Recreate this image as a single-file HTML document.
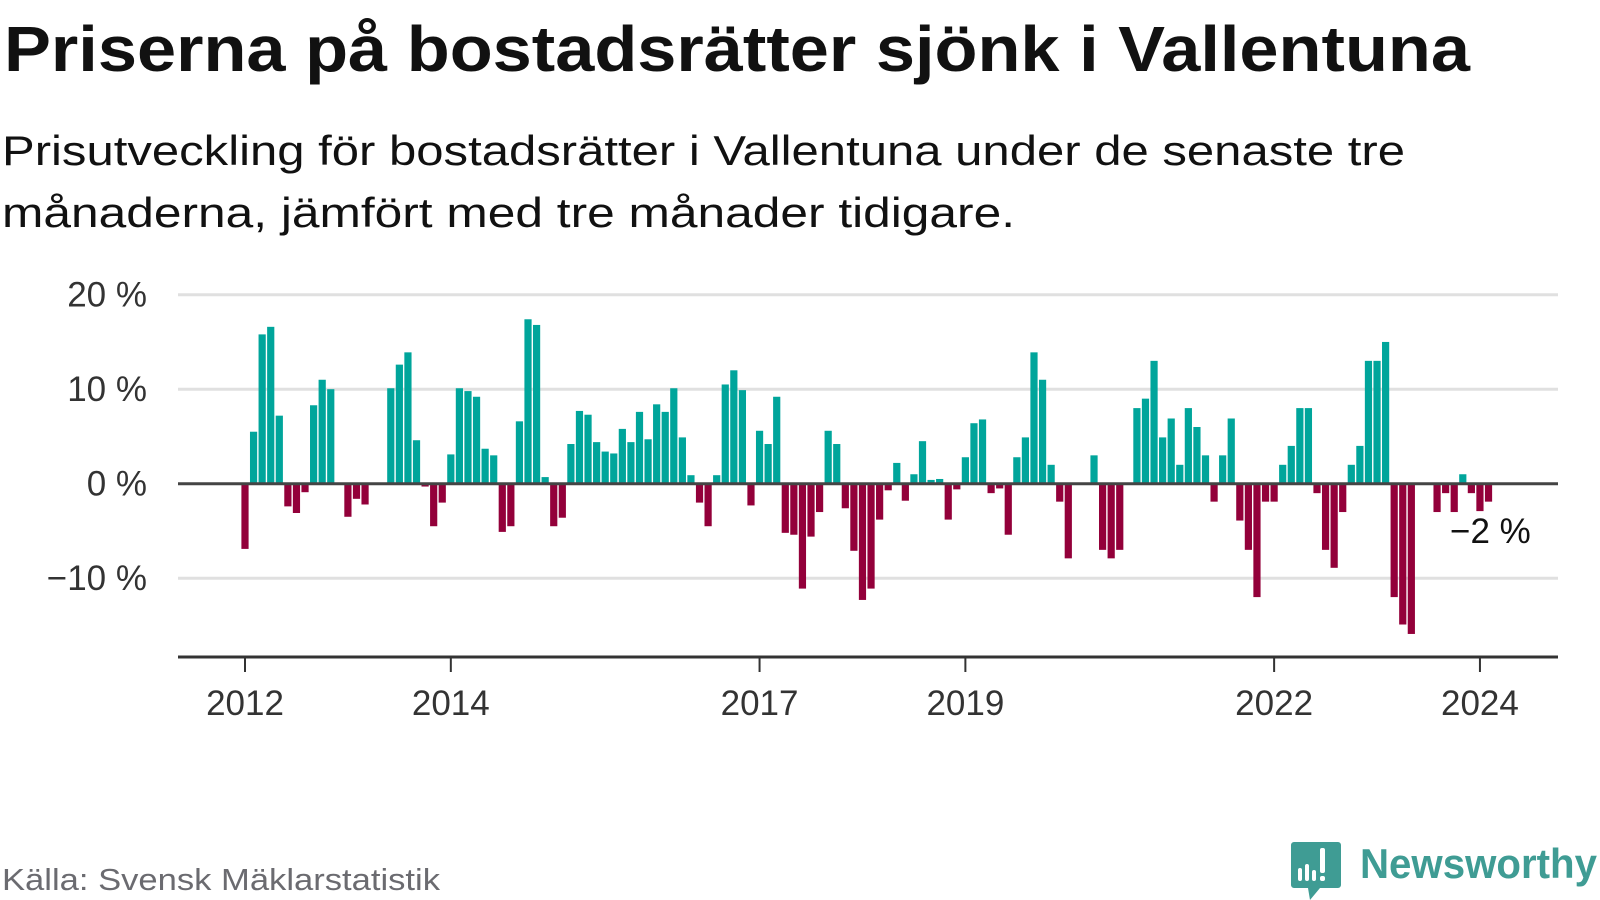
<!DOCTYPE html>
<html><head><meta charset="utf-8"><style>
html,body{margin:0;padding:0;background:#fff;}
svg{display:block;font-family:"Liberation Sans",sans-serif;}
</style></head><body>
<svg id="chart" width="1600" height="900" viewBox="0 0 1600 900">
<text x="4" y="71" font-size="64" font-weight="bold" fill="#111" textLength="1466" lengthAdjust="spacingAndGlyphs">Priserna på bostadsrätter sjönk i Vallentuna</text>
<text x="2" y="165" font-size="42" fill="#111" textLength="1403" lengthAdjust="spacingAndGlyphs">Prisutveckling för bostadsrätter i Vallentuna under de senaste tre</text>
<text x="2" y="227" font-size="42" fill="#111" textLength="1013" lengthAdjust="spacingAndGlyphs">månaderna, jämfört med tre månader tidigare.</text>
<g id="grid"></g>
<g id="yticks"></g>
<g id="bars"></g>
<g id="xaxis"></g>
<text id="lastlabel" x="1450" y="543" font-size="35" fill="#111">−2 %</text>
<text x="2" y="890" font-size="31" fill="#6b6b70" textLength="438" lengthAdjust="spacingAndGlyphs">Källa: Svensk Mäklarstatistik</text>
<g>
<path d="M1294 842 h44 a3 3 0 0 1 3 3 v40 a3 3 0 0 1 -3 3 h-18 l-10 12 l-2 -12 h-14 a3 3 0 0 1 -3 -3 v-40 a3 3 0 0 1 3 -3z" fill="#3f9c94"/>
<rect x="1298" y="868" width="4" height="13" rx="2" fill="#fff"/>
<rect x="1305" y="864" width="4" height="17" rx="2" fill="#fff"/>
<rect x="1312" y="870" width="4" height="11" rx="2" fill="#fff"/>
<rect x="1320" y="848" width="5" height="25" rx="2" fill="#fff"/>
<rect x="1320" y="876" width="5" height="5" rx="2" fill="#fff"/>
<text x="1360" y="878" font-size="42" font-weight="bold" fill="#3f9c94" textLength="237" lengthAdjust="spacingAndGlyphs">Newsworthy</text>
</g>
</svg>
<script>
const startYear = 2012;
const values = [-6.9,5.5,15.8,16.6,7.2,-2.4,-3.1,-0.9,8.3,11.0,10.0,null,
-3.5,-1.6,-2.2,null,null,10.1,12.6,13.9,4.6,-0.3,-4.5,-2.0,
3.1,10.1,9.8,9.2,3.7,3.0,-5.1,-4.5,6.6,17.4,16.8,0.7,
-4.5,-3.6,4.2,7.7,7.3,4.4,3.4,3.2,5.8,4.4,7.6,4.7,
8.4,7.6,10.1,4.9,0.9,-2.0,-4.5,0.9,10.5,12.0,9.9,-2.3,
5.6,4.2,9.2,-5.2,-5.4,-11.1,-5.6,-3.0,5.6,4.2,-2.6,-7.1,
-12.3,-11.1,-3.8,-0.7,2.2,-1.8,1.0,4.5,0.4,0.5,-3.8,-0.6,
2.8,6.4,6.8,-1.0,-0.5,-5.4,2.8,4.9,13.9,11.0,2.0,-1.9,
-7.9,null,null,3.0,-7.0,-7.9,-7.0,null,8.0,9.0,13.0,4.9,
6.9,2.0,8.0,6.0,3.0,-1.9,3.0,6.9,-3.9,-7.0,-12.0,-1.9,
-1.9,2.0,4.0,8.0,8.0,-1.0,-7.0,-8.9,-3.0,2.0,4.0,13.0,
13.0,15.0,-12.0,-14.9,-15.9,null,null,-3.0,-1.0,-3.0,1.0,-1.0,
-2.9,-1.9];
const yTicks = [20,10,0,-10];
const yTickLabels = ["20 %","10 %","0 %","−10 %"];
const xTickYears = [2012,2014,2017,2019,2022,2024];

const NS = "http://www.w3.org/2000/svg";
const x0 = 245, monthW = 8.576, barW = 7.2;
const y0 = 483.7, pxPer = 9.45;
const xScale = m => x0 + m * monthW;
const yScale = v => y0 - v * pxPer;
function mk(tag, attrs, parent){const e=document.createElementNS(NS,tag);for(const k in attrs)e.setAttribute(k,attrs[k]);parent.appendChild(e);return e;}

const grid = document.getElementById('grid');
const yt = document.getElementById('yticks');
yTicks.forEach((t,i)=>{
  if(t!==0){
    const l = mk('line',{x1:178,x2:1558,y1:yScale(t),y2:yScale(t),stroke:'#e0e0e0','stroke-width':3},grid);
    
    
  }
  const tx = mk('text',{x:147,y:yScale(t)+12,'font-size':35,fill:'#333','text-anchor':'end'},yt);
  tx.textContent = yTickLabels[i];
  
  
});

const bars = document.getElementById('bars');
values.forEach((v,i)=>{
  if(v===null) return;
  const cx = xScale(i);
  const top = v>=0 ? yScale(v) : y0;
  const h = Math.abs(yScale(v)-y0);
  const r = mk('rect',{x:cx-barW/2,y:top,width:barW,height:h,fill: v>=0?'#00a59b':'#93003a'},bars);
  
  
});

const zl = mk('line',{x1:178,x2:1558,y1:y0,y2:y0,stroke:'#444','stroke-width':3},bars);



const xa = document.getElementById('xaxis');
const al = mk('line',{x1:178,x2:1558,y1:657,y2:657,stroke:'#333','stroke-width':3},xa);


xTickYears.forEach(yr=>{
  const x = xScale((yr-startYear)*12);
  const tk = mk('line',{x1:x,x2:x,y1:657,y2:672,stroke:'#333','stroke-width':2},xa);
  
  
  const tx = mk('text',{x:x,y:715,'font-size':35,fill:'#333','text-anchor':'middle'},xa);
  tx.textContent = yr;
  
  
});
</script>
</body></html>
